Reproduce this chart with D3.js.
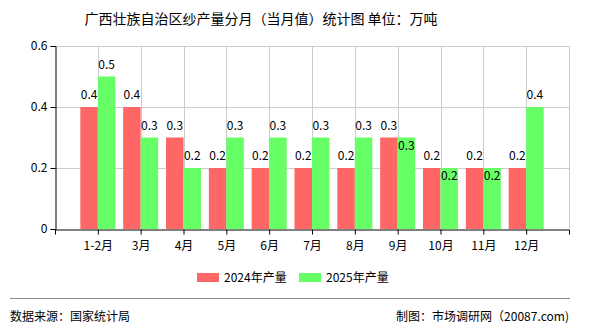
<!DOCTYPE html>
<html>
<head>
<meta charset="utf-8">
<script src="https://cdn.jsdelivr.net/npm/d3@7"></script>
<style>
  body { margin: 0; background: #fff; }
  text { font-family: "Noto Sans CJK SC", sans-serif; }
</style>
</head>
<body>
<div id="chart"></div>
<script>
const months = ["1-2月", "3月", "4月", "5月", "6月", "7月", "8月", "9月", "10月", "11月", "12月"];
const v2024 = [0.4, 0.4, 0.3, 0.2, 0.2, 0.2, 0.2, 0.3, 0.2, 0.2, 0.2];
const v2025 = [0.5, 0.3, 0.2, 0.3, 0.3, 0.3, 0.3, 0.3, 0.2, 0.2, 0.4];
const yTicks = [0, 0.2, 0.4, 0.6];
const seriesNames = ["2024年产量", "2025年产量"];
const colors = ["#ff6666", "#66ff66"];

const W = 590, H = 330;
const plot = { left: 55, right: 569, top: 46, bottom: 229 };
const barW = 17.5;

const svg = d3.select("#chart").append("svg")
  .attr("width", W).attr("height", H);

const x = d3.scalePoint().domain(months).range([plot.left, plot.right]).padding(1);
const y = d3.scaleLinear().domain([0, 0.6]).range([plot.bottom, plot.top]);

// title
svg.append("text")
  .attr("x", 261).attr("y", 24)
  .attr("text-anchor", "middle")
  .attr("font-size", 14)
  .text("广西壮族自治区纱产量分月（当月值）统计图 单位：万吨");

// grid
const grid = svg.append("g").attr("stroke", "#cccccc").attr("stroke-width", 1);
yTicks.filter(t => t > 0).forEach(t => {
  grid.append("line")
    .attr("x1", plot.left).attr("x2", plot.right)
    .attr("y1", Math.round(y(t)) + 0.5).attr("y2", Math.round(y(t)) + 0.5);
});
months.map(m => x(m)).concat([plot.right]).forEach(xx => {
  grid.append("line")
    .attr("x1", Math.round(xx) + 0.5).attr("x2", Math.round(xx) + 0.5)
    .attr("y1", plot.top).attr("y2", plot.bottom);
});

// bars
const data = months.map((m, i) => ({ m, a: v2024[i], b: v2025[i] }));

svg.selectAll(".bar24").data(data).enter()
  .append("rect")
  .attr("class", "bar24")
  .attr("x", d => x(d.m) - barW)
  .attr("y", d => y(d.a))
  .attr("width", barW)
  .attr("height", d => plot.bottom - y(d.a))
  .attr("fill", colors[0]);

svg.selectAll(".bar25").data(data).enter()
  .append("rect")
  .attr("class", "bar25")
  .attr("x", d => x(d.m))
  .attr("y", d => y(d.b))
  .attr("width", barW)
  .attr("height", d => plot.bottom - y(d.b))
  .attr("fill", colors[1]);

// value labels (the 2025 label drops down when it would overlap)
svg.selectAll(".lab24").data(data).enter()
  .append("text")
  .attr("x", d => x(d.m) - barW / 2)
  .attr("y", d => y(d.a) - 8)
  .attr("text-anchor", "middle")
  .attr("font-size", 12)
  .text(d => d.a.toFixed(1));

svg.selectAll(".lab25").data(data).enter()
  .append("text")
  .attr("x", d => x(d.m) + barW / 2)
  .attr("y", d => d.a === d.b ? y(d.b) + 12 : y(d.b) - 8)
  .attr("text-anchor", "middle")
  .attr("font-size", 12)
  .text(d => d.b.toFixed(1));

// axes
const yAxis = svg.append("g")
  .attr("transform", `translate(${plot.left + 0.5},0)`)
  .call(d3.axisLeft(y).tickValues(yTicks).tickSize(5).tickFormat(d => d === 0 ? "0" : d3.format(".1f")(d)));
yAxis.select(".domain").attr("stroke", "#000");
yAxis.selectAll("text").attr("font-size", 12).attr("font-family", "Noto Sans CJK SC").attr("fill", "#000");

const xAxis = svg.append("g")
  .attr("transform", `translate(0,${plot.bottom + 0.5})`)
  .call(d3.axisBottom(x).tickSize(5).tickSizeOuter(5));
xAxis.select(".domain").attr("stroke", "#000");
xAxis.selectAll("text").attr("font-size", 12).attr("font-family", "Noto Sans CJK SC").attr("fill", "#000").attr("dy", "1em");

// legend
const legend = svg.append("g");
seriesNames.forEach((n, i) => {
  const lx = 197 + i * 102;
  legend.append("rect")
    .attr("x", lx).attr("y", 273).attr("width", 22).attr("height", 9)
    .attr("fill", colors[i]);
  legend.append("text")
    .attr("x", lx + 27).attr("y", 282)
    .attr("font-size", 12)
    .text(n);
});

// footer
svg.append("line")
  .attr("x1", 10).attr("x2", 570)
  .attr("y1", 298.5).attr("y2", 298.5)
  .attr("stroke", "#888").attr("stroke-width", 1);
svg.append("text")
  .attr("x", 10).attr("y", 321)
  .attr("font-size", 12)
  .text("数据来源：国家统计局");
svg.append("text")
  .attr("x", 569).attr("y", 321)
  .attr("text-anchor", "end")
  .attr("font-size", 12)
  .text("制图：市场调研网（20087.com)");
</script>
</body>
</html>
